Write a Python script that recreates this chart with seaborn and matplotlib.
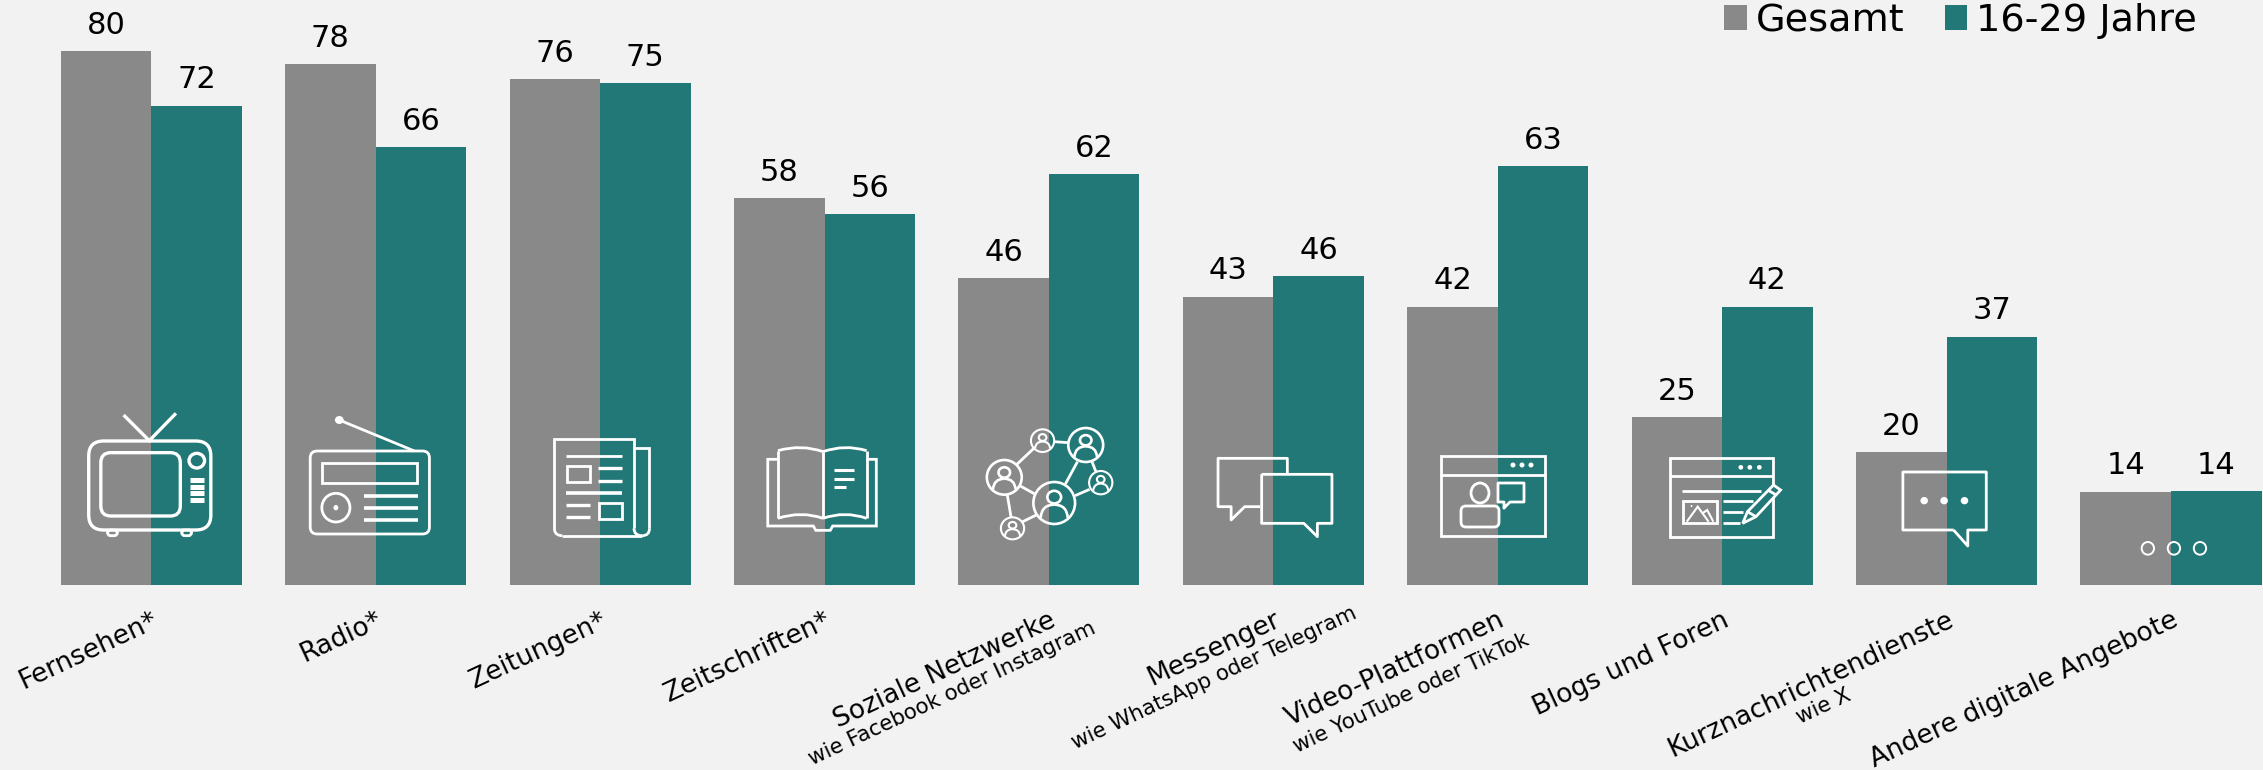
import numpy as np
import pandas as pd
import matplotlib
matplotlib.use("Agg")
import matplotlib.pyplot as plt
import seaborn as sns
from matplotlib.patches import Ellipse, FancyBboxPatch, PathPatch, Rectangle
from matplotlib.path import Path

categories = ["Fernsehen*", "Radio*", "Zeitungen*", "Zeitschriften*", "Soziale Netzwerke",
              "Messenger", "Video-Plattformen", "Blogs und Foren", "Kurznachrichtendienste",
              "Andere digitale Angebote"]
# bar heights, labels round them
gesamt = [80.0, 78.0, 75.7, 57.9, 46.0, 43.2, 41.7, 25.1, 19.9, 14.0]
jung = [71.8, 65.6, 75.1, 55.6, 61.6, 46.2, 62.7, 41.7, 37.2, 14.1]
series_names = ["Gesamt", "16-29 Jahre"]
sublabels = {4: "wie Facebook oder Instagram", 5: "wie WhatsApp oder Telegram",
             6: "wie YouTube oder TikTok", 8: "wie X"}

BG = "#F2F2F2"
GRAY = "#898989"
TEAL = "#217877"
W, H = 2263, 770

sns.set_theme(style="white", rc={"axes.facecolor": BG, "figure.facecolor": BG})
plt.rcParams["font.family"] = ["DejaVu Sans"]

df = pd.DataFrame({
    "cat": categories * 2,
    "wert": gesamt + jung,
    "gruppe": [series_names[0]] * 10 + [series_names[1]] * 10,
})

fig = plt.figure(figsize=(W / 100, H / 100), dpi=100)
ax = fig.add_axes([0, 185 / H, 1, 585 / H])
sns.barplot(data=df, x="cat", y="wert", hue="gruppe", palette=[GRAY, TEAL], width=0.807,
            gap=0, saturation=1, ax=ax, linewidth=0)
ax.set_xlim(-0.674, 9.41)
ax.set_ylim(0, 87.6)
ax.set_xlabel("")
ax.set_ylabel("")
ax.set_yticks([])
sns.despine(ax=ax, left=True, bottom=True)
ax.tick_params(axis="x", length=0, pad=16)
ax.set_xticks(range(10))
ax.set_xticklabels(categories, rotation=25, ha="right", rotation_mode="anchor", fontsize=19, color="black")

for c in ax.containers:
    ax.bar_label(c, fmt="%.0f", fontsize=22, padding=8, color="black")

sns.move_legend(ax, "upper right", bbox_to_anchor=(2197 / W, 0.996), bbox_transform=fig.transFigure,
                ncols=2, title=None, frameon=False, fontsize=27.5, handlelength=0.6, handleheight=0.6,
                handletextpad=0.23, columnspacing=1.05, borderpad=0, borderaxespad=0)
for t in ax.get_legend().get_texts():
    t.set_color("black")

# overlay in reference pixels for sublabels + icons
ov = fig.add_axes([0, 0, 1, 1])
ov.set_xlim(0, W)
ov.set_ylim(H, 0)
ov.axis("off")
ov.patch.set_alpha(0)

sub_ends = {4: (1090, 618), 5: (1351, 603), 6: (1524, 630), 8: (1846, 685)}
for i, txt in sublabels.items():
    ov.text(sub_ends[i][0], sub_ends[i][1], txt, fontsize=15.4, rotation=25, ha="right", va="top",
            rotation_mode="anchor", color="black")

LW = 2.0
BL = 1520


def sx(x0):
    # the crops I read these from were squashed sideways
    return 1568 / 743 if x0 == BL else 1568 / 760


def zp(x0, pts):
    return [(x0 + x / sx(x0), 380 + y / 3) for x, y in pts]


def line(x0, pts, lw=LW, closed=False, join="miter"):
    p = zp(x0, pts)
    if closed:
        p = p + [p[0]]
    ov.plot([a for a, b in p], [b for a, b in p], color="white", lw=lw, solid_joinstyle=join,
            solid_capstyle="butt")


def rrect(x0, x1, x2, y1, y2, r, lw=LW):
    (a, b), (c, d) = zp(x0, [(x1, y1), (x2, y2)])
    ov.add_patch(FancyBboxPatch((a + r, b + r), c - a - 2 * r, d - b - 2 * r,
                                boxstyle=f"round,pad={r},rounding_size={r}", fc="none", ec="white", lw=lw))


def rect(x0, x1, x2, y1, y2, lw=LW):
    (a, b), (c, d) = zp(x0, [(x1, y1), (x2, y2)])
    ov.add_patch(Rectangle((a, b), c - a, d - b, fc="none", ec="white", lw=lw))


def oval(x0, cx, cy, rx, ry, lw=LW, fill=False):
    (a, b) = zp(x0, [(cx, cy)])[0]
    ov.add_patch(Ellipse((a, b), 2 * rx / sx(x0), 2 * ry / 3, fc="white" if fill else "none", ec="white", lw=lw))


def curve(x0, p0, c, p1, lw=LW):
    v = zp(x0, [p0, c, p1])
    ov.add_patch(PathPatch(Path(v, [Path.MOVETO, Path.CURVE3, Path.CURVE3]), fc="none", ec="white", lw=lw))


# Fernseher
rrect(0, 183, 435, 183, 450, 15, 2.4)
rrect(0, 208, 372, 218, 408, 10, 2.4)
oval(0, 406, 242, 16, 22, 2.4)
for y in [300, 320, 340, 360]:
    line(0, [(392, y), (420, y)], 3.6)
line(0, [(255, 105), (308, 182), (363, 100)], 2.4)
rrect(0, 222, 242, 450, 467, 3)
rrect(0, 375, 395, 450, 467, 3)

# Radio
rrect(0, 640, 886, 213, 462, 7)
line(0, [(700, 120), (855, 213)])
oval(0, 700, 120, 9, 12, 0, True)
rect(0, 664, 860, 250, 308)
oval(0, 693, 383, 29, 43)
oval(0, 693, 383, 5, 8, 0, True)
for y in [348, 384, 420]:
    line(0, [(752, y), (863, y)], 2.6)

# Zeitung
line(0, [(1160, 467), (1325, 467)])
line(0, [(1144, 450), (1144, 177), (1308, 177), (1308, 445)])
line(0, [(1308, 204), (1340, 204), (1340, 445)])
curve(0, (1340, 445), (1340, 467), (1325, 467))
curve(0, (1308, 445), (1308, 467), (1325, 467))
curve(0, (1144, 450), (1146, 467), (1160, 467))
line(0, [(1167, 228), (1284, 228)])
rect(0, 1169, 1217, 258, 307)
line(0, [(1233, 264), (1284, 264)], 2.4)
line(0, [(1233, 302), (1284, 302)], 2.4)
line(0, [(1167, 339), (1284, 339)], 2.6)
line(0, [(1167, 375), (1218, 375)], 2.4)
rect(0, 1235, 1284, 368, 416)
line(0, [(1167, 411), (1218, 411)], 2.4)

# Buch
B0 = 760
curve(B0, (37, 212), (85, 192), (130, 215))
curve(B0, (130, 215), (175, 192), (220, 212))
curve(B0, (37, 415), (85, 392), (130, 415))
curve(B0, (130, 415), (175, 392), (220, 415))
line(B0, [(37, 212), (37, 415)])
line(B0, [(130, 215), (130, 415)])
line(B0, [(220, 212), (220, 415)])
line(B0, [(37, 238), (16, 238), (16, 438), (110, 438), (115, 451), (145, 451), (150, 438), (240, 438),
          (240, 238), (220, 238)])
line(B0, [(152, 271), (194, 271)], 2.2)
line(B0, [(152, 296), (194, 296)], 2.2)
line(B0, [(152, 322), (178, 322)], 2.2)

# Netzwerk
nodes = [(583, 182, 24, 34), (672, 195, 36, 51), (504, 292, 36, 52),
         (703, 308, 24, 35), (607, 369, 43, 63), (521, 445, 24, 33)]
for cx, cy, rx, ry in nodes:
    lw = 1.9 if rx > 30 else 1.5
    oval(B0, cx, cy, rx, ry, lw)
    oval(B0, cx, cy - 0.28 * ry, 0.33 * rx, 0.3 * ry, lw)
    curve(B0, (cx - 0.65 * rx, cy + 0.7 * ry), (cx - 0.6 * rx, cy + 0.08 * ry), (cx, cy + 0.08 * ry), lw)
    curve(B0, (cx + 0.65 * rx, cy + 0.7 * ry), (cx + 0.6 * rx, cy + 0.08 * ry), (cx, cy + 0.08 * ry), lw)
for a, b in [((607, 185), (636, 188)), ((565, 205), (530, 253)), ((655, 245), (630, 312)),
             ((685, 245), (693, 275)), ((537, 318), (567, 342)), ((510, 343), (518, 412)),
             ((650, 347), (680, 328)), ((570, 405), (542, 425))]:
    line(B0, [a, b])

# Messenger
line(B0, [(1032, 380), (1000, 380), (972, 420), (972, 380), (945, 380), (945, 235), (1088, 235), (1088, 283)], join="round")
line(B0, [(1035, 283), (1180, 283), (1180, 430), (1150, 430), (1150, 470), (1122, 430), (1035, 430)], closed=True, join="round")

# Video
ov.add_patch(Rectangle((1441, 456), 104, 80, fc="none", ec="white", lw=LW))
ov.plot([1441, 1545], [475, 475], color="white", lw=LW)
for x in [1513, 1522, 1531]:
    ov.add_patch(Ellipse((x, 465), 5, 5, fc="white", ec="none"))
ov.add_patch(Ellipse((1480, 493), 18, 20, fc="none", ec="white", lw=LW))
ov.add_patch(FancyBboxPatch((1466, 511), 28, 11, boxstyle="round,pad=5,rounding_size=5", fc="none", ec="white", lw=LW))
ov.plot([1504, 1504, 1498, 1498, 1524, 1524, 1510, 1504], [508, 502, 502, 483, 483, 502, 502, 508], color="white", lw=LW)

# Blogs
rect(BL, 316, 534, 233, 472)
line(BL, [(316, 288), (534, 288)])
for x in [466, 485, 505]:
    oval(BL, x, 262, 5, 7, 0, True)
line(BL, [(342, 332), (508, 332)])
rect(BL, 345, 415, 363, 428)
line(BL, [(352, 425), (375, 380), (398, 425)], 1.5)
line(BL, [(385, 400), (395, 390), (408, 425)], 1.5)
oval(BL, 362, 378, 2, 3, 0, True)
line(BL, [(428, 364), (492, 364)])
line(BL, [(428, 396), (470, 396)])
line(BL, [(428, 428), (464, 428)])
pencil = zp(BL, [(470, 430), (480, 395), (535, 315), (550, 330), (498, 410)])
ov.add_patch(plt.Polygon(pencil, closed=True, fc=TEAL, ec="white", lw=LW))
line(BL, [(480, 395), (498, 410)])
line(BL, [(525, 332), (541, 345)])

# Kurznachrichten
line(BL, [(915, 450), (945, 498), (945, 450), (984, 450), (984, 276), (808, 276), (808, 450)], closed=True, join="round")
for x in [853, 895, 938]:
    oval(BL, x, 362, 8, 11, 0, True)

# Andere
for x in [1325, 1380, 1435]:
    oval(BL, x, 505, 13, 19, 1.4)

fig.savefig("out.png", dpi=100, facecolor=BG)
